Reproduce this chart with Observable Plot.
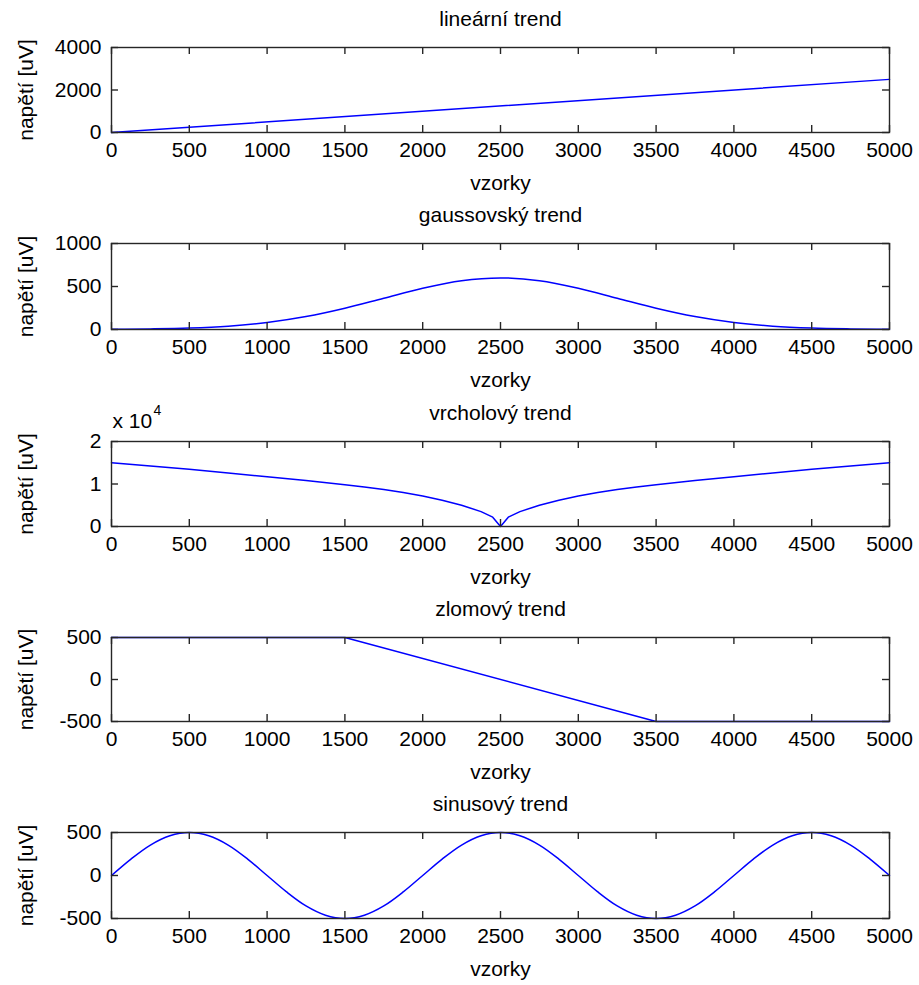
<!DOCTYPE html>
<html><head><meta charset="utf-8">
<script src="https://cdn.jsdelivr.net/npm/d3@7"></script>
<script src="https://cdn.jsdelivr.net/npm/@observablehq/plot@0.6"></script>
<style>
body{margin:0;background:#fff;}
#chart{position:relative;width:919px;height:985px;overflow:hidden;background:#fff;}
#chart svg{position:absolute;left:0;}
</style></head><body><div id="chart"></div>
<script>
// ---- data ----
const xTicks = [0,500,1000,1500,2000,2500,3000,3500,4000,4500,5000];
const xLabel = "vzorky";
const yLabel = "napětí [uV]";

const titles = ["lineární trend","gaussovský trend","vrcholový trend","zlomový trend","sinusový trend"];

const linX = [0,5000];
const linY = [0,2500];

const gaussX = [0,250,500,750,1000,1250,1500,1750,2000,2250,2500,2750,3000,3250,3500,3750,4000,4250,4500,4750,5000];
const gaussY = [2,7,17,39,81,150,247,364,480,568,600,568,480,364,247,150,81,39,17,7,2];

const peakX = [0,250,500,750,1000,1250,1500,1625,1750,1875,2000,2125,2250,2375,2450,2500,2550,2625,2750,2875,3000,3125,3250,3375,3500,3750,4000,4250,4500,4750,5000];
const peakY = [15000,14250,13450,12600,11700,10800,9800,9300,8700,8000,7200,6200,5000,3500,2200,0,2200,3500,5000,6200,7200,8000,8700,9300,9800,10800,11700,12600,13450,14250,15000];

const brkX = [0,1500,3500,5000];
const brkY = [500,500,-500,-500];

const sinX = [0,125,250,375,500,625,750,875,1000,1125,1250,1375,1500,1625,1750,1875,2000,2125,2250,2375,2500,2625,2750,2875,3000,3125,3250,3375,3500,3625,3750,3875,4000,4125,4250,4375,4500,4625,4750,4875,5000];
const sinY = [0,191,354,462,500,462,354,191,0,-191,-354,-462,-500,-462,-354,-191,0,191,354,462,500,462,354,191,0,-191,-354,-462,-500,-462,-354,-191,0,191,354,462,500,462,354,191,0];

const yTicks1 = [0,2000,4000];
const yTicks2 = [0,500,1000];
const yTicks3 = [0,10000,20000];
const yTicks4 = [-500,0,500];
const yTicks5 = [-500,0,500];

// ---- layout ----
const W = 919, ML = 111, MR = 30, MT = 50, MB = 70;
const PW = W - ML - MR;
const FONT = "'Liberation Sans', Arial, sans-serif";
const AX = "#262626";
const TK = 7;

const panels = [
  {title: titles[0], x: linX, y: linY, yDomain: [0,4000], yTicks: yTicks1, top: 47, h: 85, curve: "linear"},
  {title: titles[1], x: gaussX, y: gaussY, yDomain: [0,1000], yTicks: yTicks2, top: 243, h: 86, curve: "monotone-x"},
  {title: titles[2], x: peakX, y: peakY, yDomain: [0,20000], yTicks: yTicks3, top: 441, h: 85, curve: "linear", fmt: d => d / 1e4, exp: true},
  {title: titles[3], x: brkX, y: brkY, yDomain: [-500,500], yTicks: yTicks4, top: 637, h: 84, curve: "linear"},
  {title: titles[4], x: sinX, y: sinY, yDomain: [-500,500], yTicks: yTicks5, top: 832, h: 86, curve: "catmull-rom"}
];

const chart = document.getElementById("chart");
for (const p of panels) {
  const data = p.x.map((xi, i) => ({x: xi, y: p.y[i]}));
  const marks = [
    Plot.line(data, {x: "x", y: "y", stroke: "#0000ff", strokeWidth: 1.5, curve: p.curve}),
    Plot.frame({stroke: AX, strokeWidth: 1.4}),
    Plot.tickX(xTicks, {x: d => d, insetBottom: p.h - TK, stroke: AX, strokeWidth: 1.4}),
    Plot.tickX(xTicks, {x: d => d, insetTop: p.h - TK, stroke: AX, strokeWidth: 1.4}),
    Plot.tickY(p.yTicks, {y: d => d, insetRight: PW - TK, stroke: AX, strokeWidth: 1.4}),
    Plot.tickY(p.yTicks, {y: d => d, insetLeft: PW - TK, stroke: AX, strokeWidth: 1.4}),
    Plot.axisX({ticks: xTicks, tickSize: 0, tickPadding: 10, label: null, tickFormat: d => String(d)}),
    Plot.axisY({ticks: p.yTicks, tickSize: 0, tickPadding: 10, label: null, tickFormat: p.fmt || (d => String(d))}),
    Plot.text([p.title], {frameAnchor: "top", lineAnchor: "middle", dy: -28, text: d => d}),
    Plot.text([xLabel], {frameAnchor: "bottom", lineAnchor: "middle", dy: 51, text: d => d}),
    Plot.text([yLabel], {frameAnchor: "left", textAnchor: "middle", lineAnchor: "middle", dx: -85, rotate: -90, text: d => d})
  ];
  if (p.exp) {
    marks.push(Plot.text(["x 10"], {frameAnchor: "top-left", textAnchor: "start", lineAnchor: "middle", dx: 1, dy: -20, text: d => d}));
    marks.push(Plot.text(["4"], {frameAnchor: "top-left", textAnchor: "start", lineAnchor: "middle", dx: 42, dy: -31, fontSize: 14, text: d => d}));
  }
  const svg = Plot.plot({
    width: W,
    height: MT + p.h + MB,
    marginLeft: ML, marginRight: MR, marginTop: MT, marginBottom: MB,
    x: {domain: [0, 5000]},
    y: {domain: p.yDomain},
    style: {fontSize: "21px", fontFamily: FONT, color: "#000", background: "transparent", overflow: "visible"},
    marks
  });
  svg.style.top = (p.top - MT) + "px";
  chart.appendChild(svg);
}
</script>
</body></html>
